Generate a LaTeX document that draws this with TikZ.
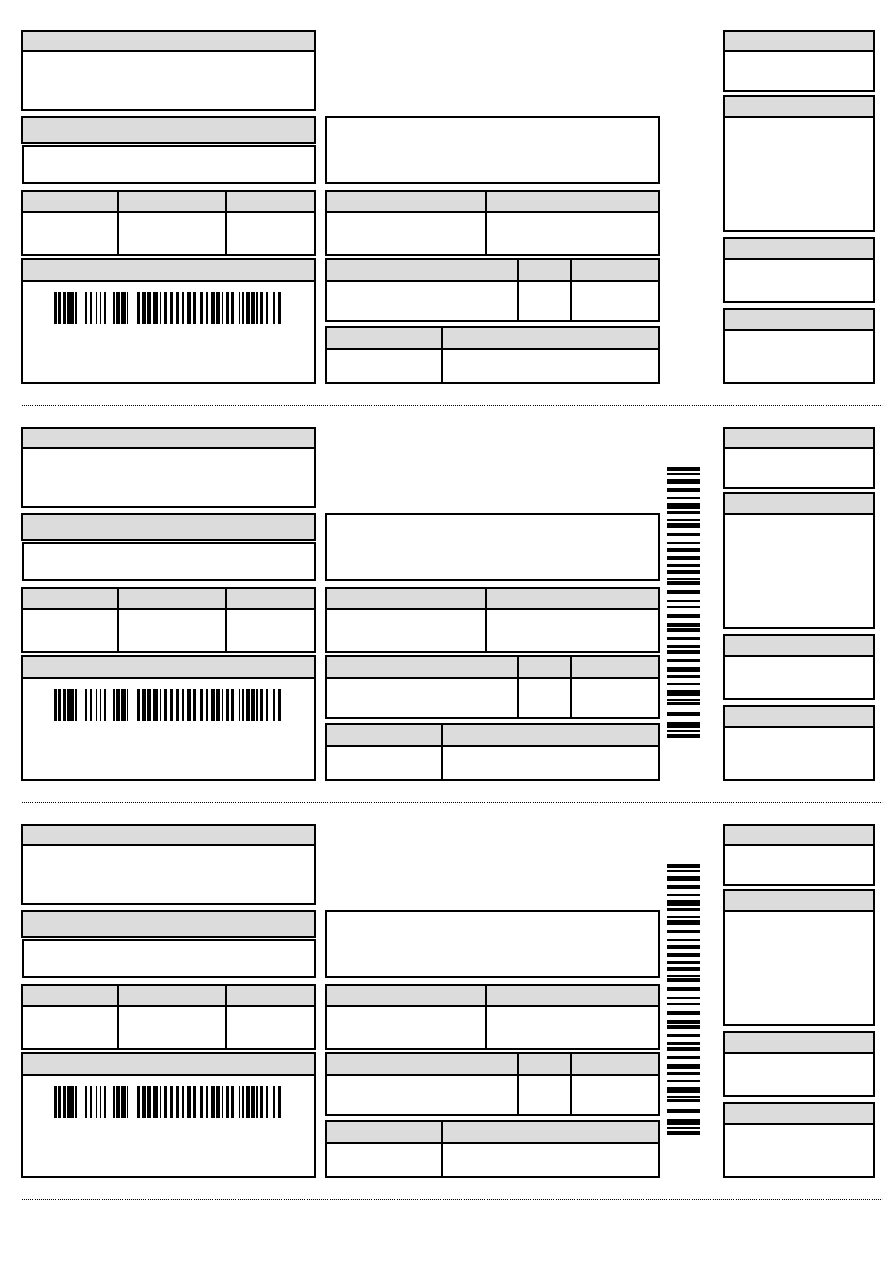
\documentclass[tikz,border=0pt]{standalone}
\usepackage{tikz}
\definecolor{hdrgray}{RGB}{220,220,220}

\begin{document}
\begin{tikzpicture}[
  x={(0.23516mm,0mm)},
  y={(0mm,-0.23516mm)},
  line join=miter,
  box/.style={draw=black,line width=0.9pt},
  hdr/.style={fill=hdrgray},
  bar/.style={fill=black},
  cut/.style={line width=0.5pt,dash pattern=on 0.6pt off 0.8pt}
]

% ---------- page ----------
\useasboundingbox (0,0) rectangle (893,1263);

% ---------- parameters ----------
\def\dy{397}   % height of one slip
\def\bx{54}    % left edge of the horizontal barcode
\def\by{292}   % top edge of the horizontal barcode
\def\vx{667}   % left edge of the vertical barcode

\foreach \s in {0,1,2}{
\begin{scope}[shift={(0,\s*\dy)}]

  % ---------- headed boxes: x1/y1/x2/header/y2 ----------
  \foreach \xa/\ya/\xb/\yh/\yb in {
    22/31/315/51/110,
    22/191/315/212/255,
    22/259/315/281/383,
    326/191/659/212/255,
    326/259/659/281/321,
    326/327/659/349/383,
    724/31/874/51/91,
    724/96/874/117/231,
    724/238/874/259/302,
    724/309/874/330/383
  }{
    \fill[hdr] (\xa,\ya) rectangle (\xb,\yh);
    \draw[box] (\xa,\ya) rectangle (\xb,\yb);
    \draw[box] (\xa,\yh) -- (\xb,\yh);
  }

  % ---------- split header with its own box ----------
  \draw[box,hdr] (22,117) rectangle (315,143);
  \draw[box] (23,146) rectangle (315,183);

  % ---------- plain box ----------
  \draw[box] (326,117) rectangle (659,183);

  % ---------- column rules ----------
  \foreach \x/\ya/\yb in {118/191/255, 226/191/255, 486/191/255,
                          518/259/321, 571/259/321, 442/327/383}
    \draw[box] (\x,\ya) -- (\x,\yb);

  % ---------- horizontal barcode ----------
  \foreach \p/\w in {0/3,4/3,9/3,13/7,21/2,31/2,36/2,42/1,46/1,50/2,
                     59/2,62/4,67/5,73/1,83/3,88/4,93/4,99/5,106/1,
                     110/3,116/3,122/3,128/2,133/4,139/3,146/3,152/2,
                     157/4,162/4,168/1,172/3,177/3,185/1,188/2,
                     192/4,197/4,202/2,206/3,212/2,219/2,224/3}
    \fill[bar] (\bx+\p,\by) rectangle ++(\w,32);

  % ---------- vertical barcode (slips 2 and 3) ----------
  \ifnum\s>0
    \foreach \p/\h in {70/4,76/2,82/5,91/4,100/2,106/6,114/3,122/2,
                       126/5,136/3,145/2,151/4,159/4,167/3,173/4,181/2,
                       184/4,193/4,203/2,209/2,217/4,226/4,231/4,240/3,
                       248/3,253/4,262/3,270/5,278/3,286/2,293/6,302/2,
                       305/3,315/4,325/6,333/2,337/4}
      \fill[bar] (\vx,\p) rectangle ++(33,\h);
  \fi

  % ---------- cut line ----------
  \draw[cut] (22,405) -- (882,405);

\end{scope}
}

\end{tikzpicture}
\end{document}
